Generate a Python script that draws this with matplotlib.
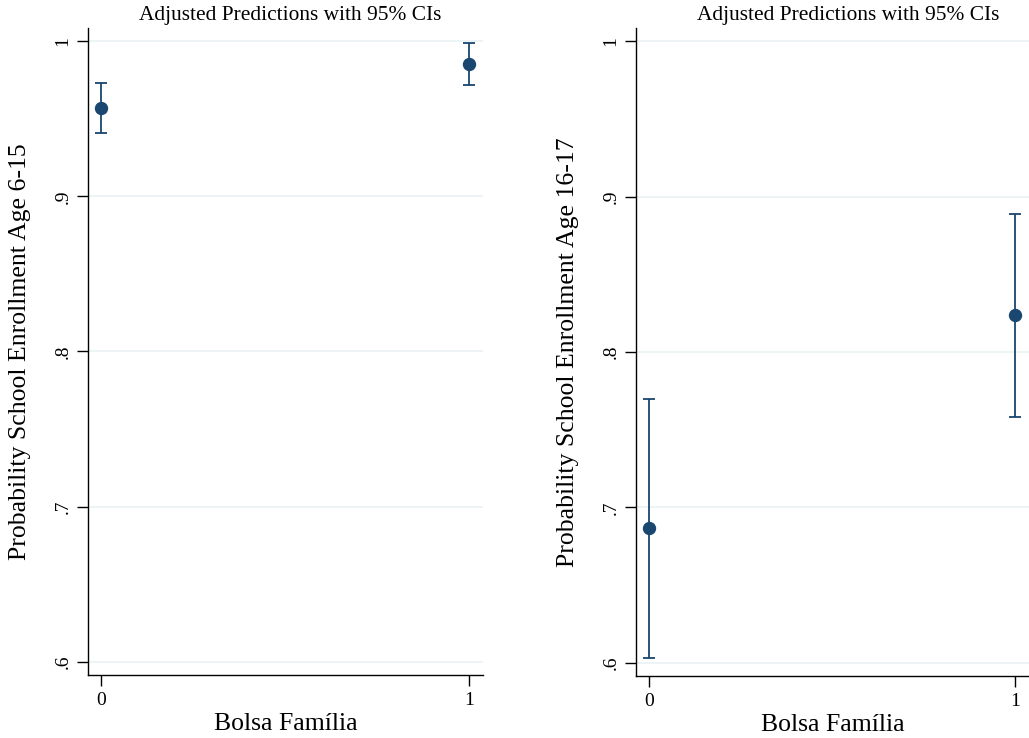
import matplotlib
matplotlib.use("Agg")
import matplotlib.pyplot as plt
import numpy as np

plt.rcParams['font.family'] = ['Liberation Serif', 'DejaVu Serif']

# predicted probabilities and 95% CIs, by Bolsa Familia status
bolsa = [0, 1]
pred_6_15 = [0.9568, 0.985]
lo_6_15 = [0.9407, 0.9717]
hi_6_15 = [0.9730, 0.9987]

pred_16_17 = [0.687, 0.8235]
lo_16_17 = [0.6032, 0.758]
hi_16_17 = [0.770, 0.889]

yticks = [0.6, 0.7, 0.8, 0.9, 1.0]
ytick_labels = ['.6', '.7', '.8', '.9', '1']

navy = '#1a476f'
grid_col = '#eaf2f3'

fig = plt.figure(figsize=(10.29, 7.38), dpi=100)
ax1 = fig.add_axes([88/1029, 1-675/738, 395/1029, 647/738])
ax2 = fig.add_axes([636/1029, 1-676/738, 393/1029, 648/738])

panels = [
    (ax1, pred_6_15, lo_6_15, hi_6_15, 'Probability School Enrollment Age 6-15', 0.511),
    (ax2, pred_16_17, lo_16_17, hi_16_17, 'Probability School Enrollment Age 16-17', 0.54),
]

for ax, pred, lo, hi, ylab, tx in panels:
    pred = np.array(pred)
    err = [pred - np.array(lo), np.array(hi) - pred]
    ax.errorbar(bolsa, pred, yerr=err, fmt='o', color=navy, ms=8.6,
                elinewidth=1.3, capsize=4, capthick=1.3, zorder=3)
    ax.set_ylim(0.5916, 1.0084)
    ax.set_xlim(-0.035, 1.037)
    ax.set_yticks(yticks)
    ax.set_yticklabels(ytick_labels, rotation=90, va='center')
    ax.set_xticks(bolsa)
    ax.set_xticklabels(['0', '1'])
    for y in yticks:
        ax.axhline(y, color=grid_col, lw=1.2, zorder=0)
    for s in ['top', 'right']:
        ax.spines[s].set_visible(False)
    for s in ['left', 'bottom']:
        ax.spines[s].set_linewidth(1.0)
    ax.tick_params(axis='both', length=8, width=1, labelsize=14, pad=4)
    ax.set_ylabel(ylab, fontsize=18.5, labelpad=17)
    ax.set_xlabel('Bolsa Família', fontsize=18.5, labelpad=3)
    ax.text(tx, 1.005, 'Adjusted Predictions with 95% CIs', transform=ax.transAxes,
            ha='center', va='bottom', fontsize=15.4)

fig.savefig('out.png', dpi=100)
